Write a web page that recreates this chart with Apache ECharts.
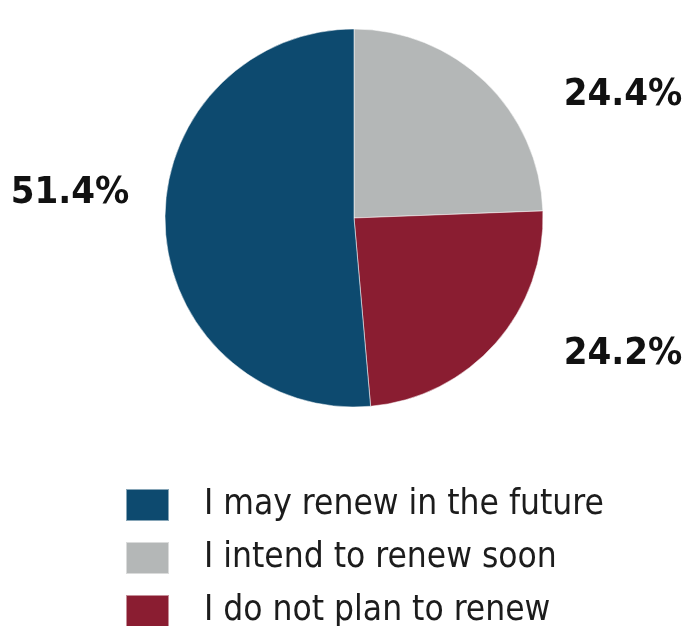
<!DOCTYPE html>
<html>
<head>
<meta charset="utf-8">
<script src="https://cdn.jsdelivr.net/npm/echarts@6/dist/echarts.min.js"></script>
<style>
  html, body { margin: 0; padding: 0; background: #ffffff; }
  #chart { width: 689px; height: 626px; }
</style>
</head>
<body>
<div id="chart"></div>
<script>
// Survey answers on renewal intent (percent of respondents)
const categories = ['I intend to renew soon', 'I do not plan to renew', 'I may renew in the future'];
const shares = [24.4, 24.2, 51.4];
const legendOrder = ['I may renew in the future', 'I intend to renew soon', 'I do not plan to renew'];

const sliceColors = ['#b4b7b7', '#8a1d31', '#0d4a6f'];
// Where each percentage label sits, in slice order
const labelSpots = [[623, 95], [623, 354], [70, 193]];

const chart = echarts.init(document.getElementById('chart'), null, { renderer: 'canvas' });

const font = '"Liberation Sans Narrow", "DejaVu Sans Condensed", "Roboto", sans-serif';

chart.setOption({
  backgroundColor: '#ffffff',
  animation: false,
  legend: {
    data: legendOrder,
    orient: 'vertical',
    left: 125,
    top: 482,
    height: 220,
    padding: 0,
    itemWidth: 43,
    itemHeight: 32,
    itemGap: 7,
    icon: 'rect',
    selectedMode: false,
    textStyle: {
      fontFamily: font,
      fontSize: 35,
      lineHeight: 46,
      color: '#1c1c1c',
      padding: [0, 0, 0, 30]
    }
  },
  series: [{
    type: 'pie',
    center: [354, 218],
    radius: [0, 189],
    startAngle: 90,
    clockwise: true,
    silent: true,
    data: categories.map((name, i) => ({
      name: name,
      value: shares[i],
      itemStyle: { color: sliceColors[i] }
    })),
    itemStyle: { borderColor: 'rgba(255,255,255,0.5)', borderWidth: 1 },
    label: {
      show: true,
      position: 'inside',
      overflow: 'none',
      formatter: p => p.value.toFixed(1) + '%',
      fontFamily: font,
      fontWeight: 'bold',
      fontSize: 38,
      color: '#111111'
    },
    labelLine: { show: false },
    labelLayout: p => ({
      x: labelSpots[p.dataIndex][0],
      y: labelSpots[p.dataIndex][1],
      align: 'center',
      verticalAlign: 'middle'
    })
  }]
});
</script>
</body>
</html>
